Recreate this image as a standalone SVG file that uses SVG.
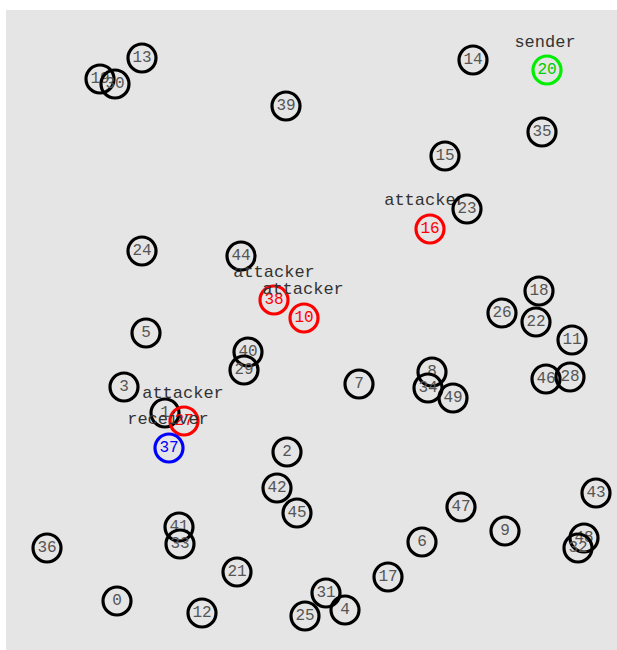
<svg xmlns="http://www.w3.org/2000/svg" width="617" height="650" viewBox="0 0 617 650">
<style>
.n circle{fill:none;stroke:#000;stroke-width:3.2}
.n text{font-family:"Liberation Mono","DejaVu Sans Mono",monospace;font-size:16px;fill:#555;text-anchor:middle;dominant-baseline:central}
.n text.l{fill:#333;font-size:17px}
.r circle{stroke:#f00}.r text{fill:#f00}
.g circle{stroke:#0e0}.g text{fill:#0c0}
.b circle{stroke:#00f}.b text{fill:#00f}
</style>
<rect x="0" y="0" width="617" height="650" fill="#fff"/>
<rect x="6" y="10" width="611" height="640" fill="#e5e5e5"/>
<g id="connectors"></g>
<g id="n13" class="n"><circle cx="142" cy="58" r="14"/><text x="142" y="58">13</text></g>
<g id="n19" class="n"><circle cx="100" cy="79" r="14"/><text x="100" y="79">19</text></g>
<g id="n30" class="n"><circle cx="115" cy="84" r="14"/><text x="115" y="84">30</text></g>
<g id="n39" class="n"><circle cx="286" cy="106" r="14"/><text x="286" y="106">39</text></g>
<g id="n14" class="n"><circle cx="473" cy="60" r="14"/><text x="473" y="60">14</text></g>
<g id="n20" class="n g"><circle cx="547" cy="70" r="14"/><text x="547" y="70">20</text><text class="l" x="545" y="42" style="fill:#333">sender</text></g>
<g id="n35" class="n"><circle cx="542" cy="132" r="14"/><text x="542" y="132">35</text></g>
<g id="n15" class="n"><circle cx="445" cy="156" r="14"/><text x="445" y="156">15</text></g>
<g id="n16" class="n r"><circle cx="430" cy="229" r="14"/><text x="430" y="229">16</text><text class="l" x="425" y="200" style="fill:#333">attacker</text></g>
<g id="n23" class="n"><circle cx="467" cy="209" r="14"/><text x="467" y="209">23</text></g>
<g id="n24" class="n"><circle cx="142" cy="251" r="14"/><text x="142" y="251">24</text></g>
<g id="n44" class="n"><circle cx="241" cy="256" r="14"/><text x="241" y="256">44</text></g>
<g id="n38" class="n r"><circle cx="274" cy="300" r="14"/><text x="274" y="300">38</text><text class="l" x="274" y="272" style="fill:#333">attacker</text></g>
<g id="n10" class="n r"><circle cx="304" cy="318" r="14"/><text x="304" y="318">10</text><text class="l" x="303" y="289" style="fill:#333">attacker</text></g>
<g id="n5" class="n"><circle cx="146" cy="333" r="14"/><text x="146" y="333">5</text></g>
<g id="n40" class="n"><circle cx="248" cy="352" r="14"/><text x="248" y="352">40</text></g>
<g id="n29" class="n"><circle cx="244" cy="370" r="14"/><text x="244" y="370">29</text></g>
<g id="n3" class="n"><circle cx="124" cy="387" r="14"/><text x="124" y="387">3</text></g>
<g id="n1" class="n"><circle cx="165" cy="413" r="14"/><text x="165" y="413">1</text></g>
<g id="n27" class="n r"><circle cx="184" cy="421" r="14"/><text x="184" y="421">27</text><text class="l" x="183" y="393" style="fill:#333">attacker</text></g>
<g id="n37" class="n b"><circle cx="169" cy="448" r="14"/><text x="169" y="448">37</text><text class="l" x="168" y="419" style="fill:#333">receiver</text></g>
<g id="n18" class="n"><circle cx="539" cy="291" r="14"/><text x="539" y="291">18</text></g>
<g id="n26" class="n"><circle cx="502" cy="313" r="14"/><text x="502" y="313">26</text></g>
<g id="n22" class="n"><circle cx="536" cy="322" r="14"/><text x="536" y="322">22</text></g>
<g id="n11" class="n"><circle cx="572" cy="340" r="14"/><text x="572" y="340">11</text></g>
<g id="n46" class="n"><circle cx="546" cy="379" r="14"/><text x="546" y="379">46</text></g>
<g id="n28" class="n"><circle cx="570" cy="377" r="14"/><text x="570" y="377">28</text></g>
<g id="n7" class="n"><circle cx="359" cy="384" r="14"/><text x="359" y="384">7</text></g>
<g id="n8" class="n"><circle cx="432" cy="372" r="14"/><text x="432" y="372">8</text></g>
<g id="n34" class="n"><circle cx="428" cy="388" r="14"/><text x="428" y="388">34</text></g>
<g id="n49" class="n"><circle cx="453" cy="398" r="14"/><text x="453" y="398">49</text></g>
<g id="n2" class="n"><circle cx="287" cy="452" r="14"/><text x="287" y="452">2</text></g>
<g id="n42" class="n"><circle cx="277" cy="488" r="14"/><text x="277" y="488">42</text></g>
<g id="n45" class="n"><circle cx="297" cy="513" r="14"/><text x="297" y="513">45</text></g>
<g id="n41" class="n"><circle cx="179" cy="527" r="14"/><text x="179" y="527">41</text></g>
<g id="n33" class="n"><circle cx="180" cy="544" r="14"/><text x="180" y="544">33</text></g>
<g id="n36" class="n"><circle cx="47" cy="548" r="14"/><text x="47" y="548">36</text></g>
<g id="n21" class="n"><circle cx="237" cy="572" r="14"/><text x="237" y="572">21</text></g>
<g id="n0" class="n"><circle cx="117" cy="601" r="14"/><text x="117" y="601">0</text></g>
<g id="n12" class="n"><circle cx="202" cy="613" r="14"/><text x="202" y="613">12</text></g>
<g id="n25" class="n"><circle cx="305" cy="616" r="14"/><text x="305" y="616">25</text></g>
<g id="n31" class="n"><circle cx="326" cy="593" r="14"/><text x="326" y="593">31</text></g>
<g id="n4" class="n"><circle cx="345" cy="610" r="14"/><text x="345" y="610">4</text></g>
<g id="n17" class="n"><circle cx="388" cy="577" r="14"/><text x="388" y="577">17</text></g>
<g id="n6" class="n"><circle cx="422" cy="542" r="14"/><text x="422" y="542">6</text></g>
<g id="n47" class="n"><circle cx="461" cy="507" r="14"/><text x="461" y="507">47</text></g>
<g id="n9" class="n"><circle cx="505" cy="531" r="14"/><text x="505" y="531">9</text></g>
<g id="n43" class="n"><circle cx="596" cy="493" r="14"/><text x="596" y="493">43</text></g>
<g id="n48" class="n"><circle cx="584" cy="538" r="14"/><text x="584" y="538">48</text></g>
<g id="n32" class="n"><circle cx="578" cy="548" r="14"/><text x="578" y="548">32</text></g>
</svg>
